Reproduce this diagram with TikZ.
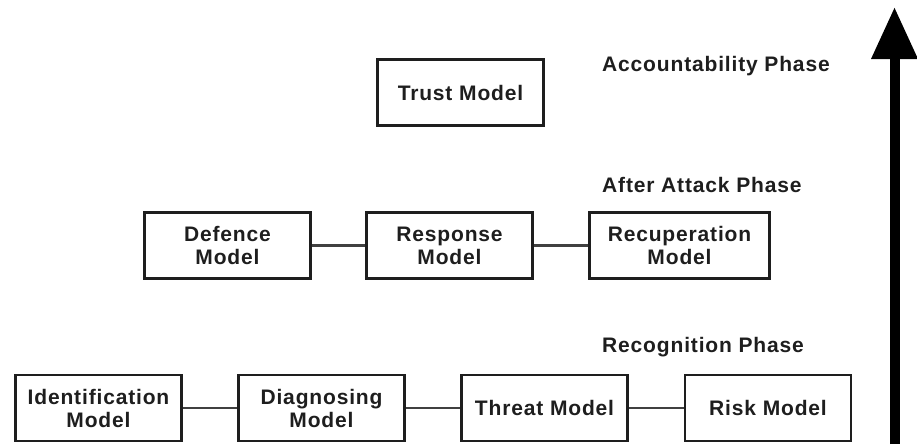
\documentclass[tikz,border=0pt]{standalone}
\usepackage{fontspec}
\setmainfont[LetterSpace=4]{Liberation Sans}
\usetikzlibrary{arrows.meta}
\definecolor{ink}{HTML}{1E1E1E}
\begin{document}
\begin{tikzpicture}[x=1pt,y=1pt,
  model/.style={draw=ink, line width=2.6pt, fill=white, text=ink,
    minimum width=166pt, minimum height=66pt, align=center, inner sep=0pt,
    font=\fontsize{21}{23}\selectfont\bfseries},
  phase/.style={anchor=west, text=ink, inner sep=0pt,
    font=\fontsize{21}{23}\selectfont\bfseries},
  link/.style={draw=ink!85, line width=2.4pt}]
\useasboundingbox (0,0) rectangle (917,-444);

% Recognition phase
\node[model] (ident)  at (98.5,-408)  {Identification\\Model};
\node[model] (diag)   at (321.5,-408) {Diagnosing\\Model};
\node[model] (threat) at (544.5,-408) {Threat Model};
\node[model] (risk)   at (768,-408)   {Risk Model};
\node[phase] (recog)  at (602,-347)   {Recognition Phase};

% After attack phase
\node[model] (defence)  at (227.5,-245.5) {Defence\\Model};
\node[model] (response) at (449.5,-245.5) {Response\\Model};
\node[model, minimum width=180pt] (recup) at (679.5,-245.5) {Recuperation\\Model};
\node[phase] (after) at (602,-185) {After Attack Phase};

% Accountability phase
\node[model] (trust) at (460.5,-92.5) {Trust Model};
\node[phase] (account) at (602,-66) {Accountability Phase};

% Links within each phase
\draw[link] (ident) -- (diag);
\draw[link] (diag) -- (threat);
\draw[link] (threat) -- (risk);
\draw[link] (defence) -- (response);
\draw[link] (response) -- (recup);

% Progression arrow
\coordinate (base) at (894.5,-444);
\coordinate (tip)  at (894.5,-7);
\draw[line width=10pt, -{Triangle[width=44pt,length=52pt]}] (base) -- (tip);
\end{tikzpicture}
\end{document}
